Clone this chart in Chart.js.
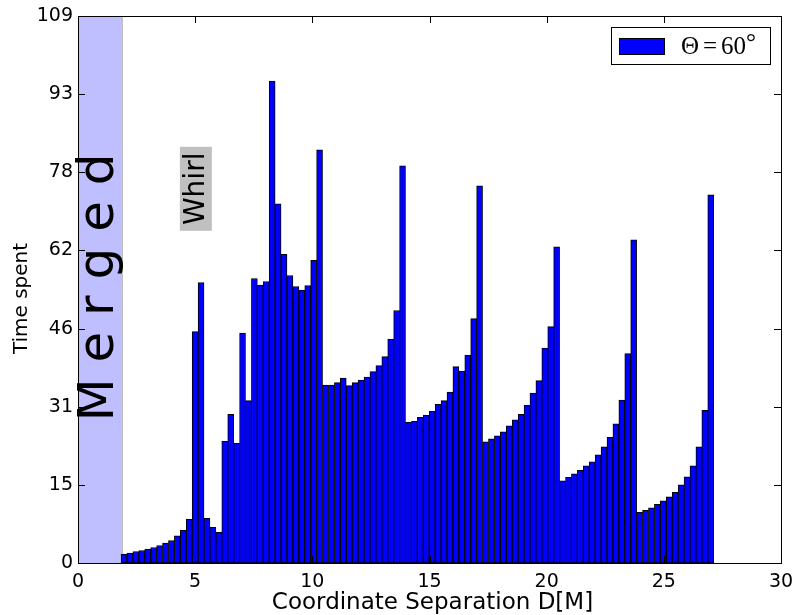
<!DOCTYPE html>
<html>
<head>
<meta charset="utf-8">
<script src="https://cdn.jsdelivr.net/npm/chart.js@4.4.0/dist/chart.umd.min.js"></script>
<style>
html, body { margin: 0; padding: 0; background: #fff; }
</style>
</head>
<body>
<canvas id="grafica" width="795" height="615"></canvas>
<script>
// histograma del tiempo pasado en cada separacion
var binStart = 1.837;   // borde izquierdo del primer bin
var binWidth = 0.2529;  // ancho de cada bin
var tiempo = [
  1.8, 2.0, 2.3, 2.5, 2.8, 3.1, 3.5, 4.0, 4.5, 5.4, 6.5, 8.7,
  46.2, 56.0, 8.9, 7.1, 6.1, 24.3, 29.7, 23.9, 45.9, 32.4,
  56.8, 55.5, 56.2, 96.2, 71.7, 61.6, 57.4, 55.2, 54.5, 55.4, 60.4, 82.5,
  35.5, 35.5, 36.0, 36.9, 35.4, 36.0, 36.5, 37.1, 38.2, 39.4,
  41.2, 44.7, 50.4, 79.3,
  28.1, 28.3, 29.1, 29.5, 30.3, 31.7, 32.4, 34.1, 39.2, 38.3, 41.5, 48.8, 75.3,
  24.2, 24.8, 25.4, 26.2, 27.4, 28.6, 29.7, 31.5, 33.9, 36.4, 42.9, 47.2, 63.1,
  16.4, 17.1, 17.8, 18.5, 19.4, 20.2, 21.6, 23.2, 25.1, 27.8, 32.5, 41.8, 64.5,
  10.1, 10.5, 11.0, 11.7, 12.4, 13.2, 14.1, 15.6, 17.2, 19.4, 23.2, 30.5, 73.5
];
var xTicks = [0, 5, 10, 15, 20, 25, 30];
var yTicks = [0, 15.6, 31.2, 46.8, 62.4, 78, 93.6, 109.2];
var yTickLabels = ['0', '15', '31', '46', '62', '78', '93', '109'];
var mergedEnd = 1.88;

var puntos = tiempo.map(function (v, i) {
  return { x: binStart + binWidth * (i + 0.5), y: v };
});

var decoracion = {
  id: 'decoracion',
  beforeDatasetsDraw: function (chart) {
    var ctx = chart.ctx, sx = chart.scales.x, sy = chart.scales.y, a = chart.chartArea;
    var x0 = sx.getPixelForValue(0), x1 = sx.getPixelForValue(mergedEnd);
    ctx.save();
    ctx.fillStyle = '#bfbfff';
    ctx.fillRect(x0, a.top, x1 - x0, a.bottom - a.top);
    ctx.strokeStyle = '#bfbfbf';
    ctx.lineWidth = 1;
    ctx.beginPath();
    ctx.moveTo(Math.round(x1) + 0.5, a.top);
    ctx.lineTo(Math.round(x1) + 0.5, a.bottom);
    ctx.stroke();
    // texto Merged
    ctx.translate(sx.getPixelForValue(0.93), sy.getPixelForValue(55));
    ctx.rotate(-Math.PI / 2);
    ctx.fillStyle = '#000';
    ctx.font = '50px "DejaVu Sans"';
    ctx.textAlign = 'center';
    ctx.textBaseline = 'middle';
    ctx.fillText('M e r g e d', 0, 0);
    ctx.restore();
  },
  afterDatasetsDraw: function (chart) {
    var ctx = chart.ctx, sx = chart.scales.x, sy = chart.scales.y, a = chart.chartArea;
    ctx.save();
    ctx.strokeStyle = '#000';
    ctx.lineWidth = 1;
    // marco
    ctx.strokeRect(Math.round(a.left) + 0.5, Math.round(a.top) + 0.5,
      Math.round(a.right - a.left), Math.round(a.bottom - a.top));
    // ticks hacia adentro
    ctx.beginPath();
    xTicks.forEach(function (v) {
      var px = Math.round(sx.getPixelForValue(v)) + 0.5;
      ctx.moveTo(px, a.bottom); ctx.lineTo(px, a.bottom - 7);
      ctx.moveTo(px, a.top); ctx.lineTo(px, a.top + 7);
    });
    yTicks.forEach(function (v) {
      var py = Math.round(sy.getPixelForValue(v)) + 0.5;
      ctx.moveTo(a.left, py); ctx.lineTo(a.left + 7, py);
      ctx.moveTo(a.right, py); ctx.lineTo(a.right - 7, py);
    });
    ctx.stroke();

    // Whirl
    var wx = sx.getPixelForValue(5.03), wy = sy.getPixelForValue(74.7);
    ctx.save();
    ctx.translate(wx, wy);
    ctx.rotate(-Math.PI / 2);
    ctx.fillStyle = '#c0c0c0';
    ctx.fillRect(-42, -16, 84, 32);
    ctx.fillStyle = '#000';
    ctx.font = '28px "DejaVu Sans"';
    ctx.textAlign = 'center';
    ctx.textBaseline = 'middle';
    ctx.fillText('Whirl', 0, 1);
    ctx.restore();

    // leyenda
    ctx.fillStyle = '#fff';
    ctx.fillRect(611, 27, 159, 37);
    ctx.strokeRect(611.5, 27.5, 159, 37);
    ctx.fillStyle = '#0000ff';
    ctx.fillRect(619, 38, 45, 16);
    ctx.strokeRect(619.5, 38.5, 45, 16);
    ctx.fillStyle = '#000';
    ctx.font = '25px "Liberation Serif"';
    ctx.textAlign = 'left';
    ctx.textBaseline = 'alphabetic';
    ctx.fillText('\u0398', 681, 54);
    ctx.fillText('=', 703, 54);
    ctx.fillText('60', 721, 54);
    ctx.fillText('\u00b0', 746, 50);

    // titulos de ejes
    ctx.textAlign = 'center';
    ctx.textBaseline = 'alphabetic';
    ctx.font = '23px "DejaVu Sans"';
    ctx.fillText('Coordinate Separation D[M]', (a.left + a.right) / 2 + 3, 609);
    ctx.font = '20px "DejaVu Sans"';
    ctx.translate(27, (a.top + a.bottom) / 2 + 9);
    ctx.rotate(-Math.PI / 2);
    ctx.fillText('Time spent', 0, 0);
    ctx.restore();
  }
};

var ctx = document.getElementById('grafica');
var chart = new Chart(ctx, {
  type: 'bar',
  data: {
    datasets: [{
      label: '\u0398=60\u00b0',
      data: puntos,
      backgroundColor: '#0000ff',
      borderColor: '#000',
      borderWidth: 1,
      borderSkipped: false,
      barPercentage: 1,
      categoryPercentage: 1
    }]
  },
  options: {
    responsive: false,
    animation: false,
    layout: { padding: { top: 16, right: 14, left: 0, bottom: 0 } },
    plugins: { legend: { display: false }, tooltip: { enabled: false } },
    scales: {
      x: {
        type: 'linear',
        offset: false,
        min: 0,
        max: 30,
        afterBuildTicks: function (s) { s.ticks = xTicks.map(function (v) { return { value: v }; }); },
        afterFit: function (s) { s.height = 52; s.paddingLeft = 0; s.paddingRight = 0; },
        grid: { display: false, drawTicks: false },
        border: { display: false },
        ticks: {
          color: '#000',
          font: { family: 'DejaVu Sans', size: 19 },
          padding: 8,
          maxRotation: 0,
          autoSkip: false
        }
      },
      y: {
        min: 0,
        max: 109.2,
        afterBuildTicks: function (s) { s.ticks = yTicks.map(function (v) { return { value: v }; }); },
        afterFit: function (s) { s.width = 78; s.paddingTop = 0; s.paddingBottom = 0; },
        grid: { display: false, drawTicks: false },
        border: { display: false },
        ticks: {
          color: '#000',
          font: { family: 'DejaVu Sans', size: 19 },
          padding: 5,
          autoSkip: false,
          callback: function (v, i) { return yTickLabels[i]; }
        }
      }
    }
  },
  plugins: [decoracion]
});
</script>
</body>
</html>
